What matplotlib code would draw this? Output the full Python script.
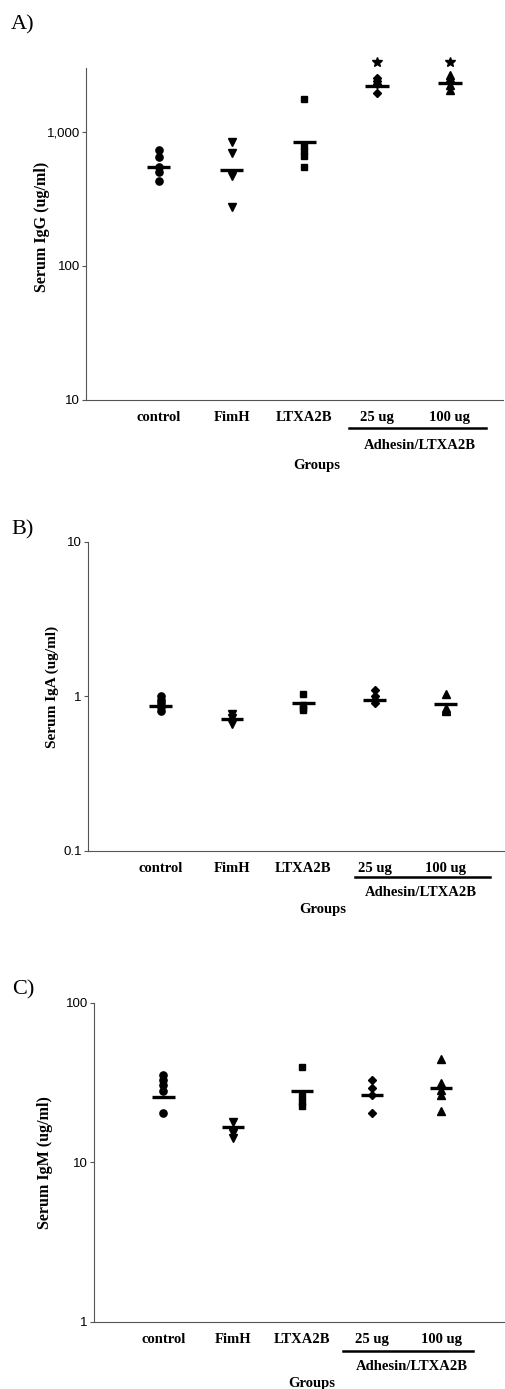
import matplotlib
matplotlib.use("Agg")
import matplotlib.pyplot as plt
from matplotlib.lines import Line2D

W, H = 505, 1389

groups = ["control", "FimH", "LTXA2B", "25 ug", "100 ug"]
markers = ["o", "v", "s", "D", "^"]
marker_sizes = [5.2, 5.8, 4.5, 4.5, 5.8]

# Panel A: serum IgG (ug/ml)
igg_control = [735, 650, 548, 502, 431]
igg_fimh = [838, 693, 470, 277]
igg_ltxa2b = [1755, 780, 720, 660, 545]
igg_25ug = [2530, 2405, 2280, 1955]
igg_100ug = [2660, 2530, 2250, 2050]
igg_means = [548, 520, 838, 2200, 2330]
igg_stars = [None, None, None, 3300, 3300]
igg_ticks = [10, 100, 1000]
igg_ticklabels = ["10", "100", "1,000"]

# Panel B: serum IgA (ug/ml)
iga_control = [1.0, 0.95, 0.9, 0.85, 0.8]
iga_fimh = [0.77, 0.72, 0.66]
iga_ltxa2b = [1.04, 0.88, 0.84, 0.81]
iga_25ug = [1.09, 1.01, 0.94, 0.90]
iga_100ug = [1.04, 0.84, 0.82, 0.80]
iga_means = [0.87, 0.71, 0.90, 0.95, 0.89]
iga_ticks = [0.1, 1, 10]
iga_ticklabels = ["0.1", "1", "10"]

# Panel C: serum IgM (ug/ml)
igm_control = [35.2, 32.7, 30.4, 28.0, 20.4]
igm_fimh = [17.8, 15.2, 14.2]
igm_ltxa2b = [39.7, 26.0, 24.0, 22.5]
igm_25ug = [32.8, 29.0, 26.4, 20.2]
igm_100ug = [44.2, 31.5, 28.4, 26.4, 21.0]
igm_means = [25.7, 16.7, 28.1, 26.4, 29.3]
igm_ticks = [1, 10, 100]
igm_ticklabels = ["1", "10", "100"]

SERIF = ["Liberation Serif", "DejaVu Serif"]
SANS = ["Liberation Sans", "DejaVu Sans"]

fig = plt.figure(figsize=(W / 100, H / 100), dpi=100)


def fx(x):
    return x / W


def fy(y):
    return 1 - y / H


def make_panel(rect_px, xlim, ylim, data, means, ticks, ticklabels,
               letter, letter_pos, ylabel, ylabel_pos, bar, adh_pos, grp_pos,
               stars=None, ylabel_size=11):
    l, t, r, b = rect_px
    ax = fig.add_axes([fx(l), fy(b), (r - l) / W, (b - t) / H])
    ax.set_yscale("log")
    ax.set_xlim(*xlim)
    ax.set_ylim(*ylim)
    for i, vals in enumerate(data):
        x = i + 1
        ax.plot([x] * len(vals), vals, linestyle="none", marker=markers[i],
                markersize=marker_sizes[i], color="black", clip_on=False)
        ax.hlines(means[i], x - 0.16, x + 0.16, color="black", lw=2.4)
        if stars is not None and stars[i] is not None:
            ax.plot([x], [stars[i]], marker="*", markersize=7.5, color="black",
                    linestyle="none", clip_on=False)
    for s in ["top", "right"]:
        ax.spines[s].set_visible(False)
    for s in ["left", "bottom"]:
        ax.spines[s].set_color("#555555")
        ax.spines[s].set_linewidth(0.8)
    ax.set_yticks(ticks)
    ax.set_yticklabels(ticklabels, fontfamily=SANS, fontsize=9.5)
    ax.yaxis.set_minor_locator(matplotlib.ticker.NullLocator())
    ax.tick_params(axis="y", length=3, width=0.8, color="#555555", pad=1.5)
    ax.set_xticks(range(1, len(groups) + 1))
    ax.set_xticklabels(groups, fontfamily=SERIF, fontweight="bold", fontsize=10.5)
    ax.tick_params(axis="x", length=0, pad=8)
    # panel letter
    fig.text(fx(letter_pos[0]), fy(letter_pos[1]), letter, fontfamily=SERIF,
             fontsize=16, ha="left", va="center")
    # y label
    fig.text(fx(ylabel_pos[0]), fy(ylabel_pos[1]), ylabel, fontfamily=SERIF,
             fontweight="bold", fontsize=ylabel_size, rotation=90,
             ha="center", va="center")
    # bar under the adhesin groups
    fig.add_artist(Line2D([fx(bar[0]), fx(bar[1])], [fy(bar[2]), fy(bar[2])],
                          color="black", lw=1.8))
    fig.text(fx(adh_pos[0]), fy(adh_pos[1]), "Adhesin/LTXA2B", fontfamily=SERIF,
             fontweight="bold", fontsize=10.5, ha="center", va="center")
    fig.text(fx(grp_pos[0]), fy(grp_pos[1]), "Groups", fontfamily=SERIF,
             fontweight="bold", fontsize=10.5, ha="center", va="center")
    return ax


make_panel((86, 68, 503, 400), (0, 5.73), (10, 3000),
           [igg_control, igg_fimh, igg_ltxa2b, igg_25ug, igg_100ug], igg_means,
           igg_ticks, igg_ticklabels, "A)", (11, 25), "Serum IgG (ug/ml)",
           (42, 227), (349, 486, 428), (420, 445), (317, 465), stars=igg_stars,
           ylabel_size=11.5)

make_panel((88, 541.7, 505, 850.7), (-0.02, 5.83), (0.1, 10),
           [iga_control, iga_fimh, iga_ltxa2b, iga_25ug, iga_100ug], iga_means,
           iga_ticks, iga_ticklabels, "B)", (11, 530), "Serum IgA (ug/ml)",
           (52, 687), (355, 490, 876.7), (421, 893), (323, 909),
           ylabel_size=11)

make_panel((94, 1002.7, 505, 1321.7), (0, 5.92), (1, 100),
           [igm_control, igm_fimh, igm_ltxa2b, igm_25ug, igm_100ug], igm_means,
           igm_ticks, igm_ticklabels, "C)", (12, 990), "Serum IgM (ug/ml)",
           (45, 1163), (343, 473, 1350.7), (412, 1366.7), (312, 1383.3),
           ylabel_size=11.5)

fig.savefig("out.png", dpi=100)
